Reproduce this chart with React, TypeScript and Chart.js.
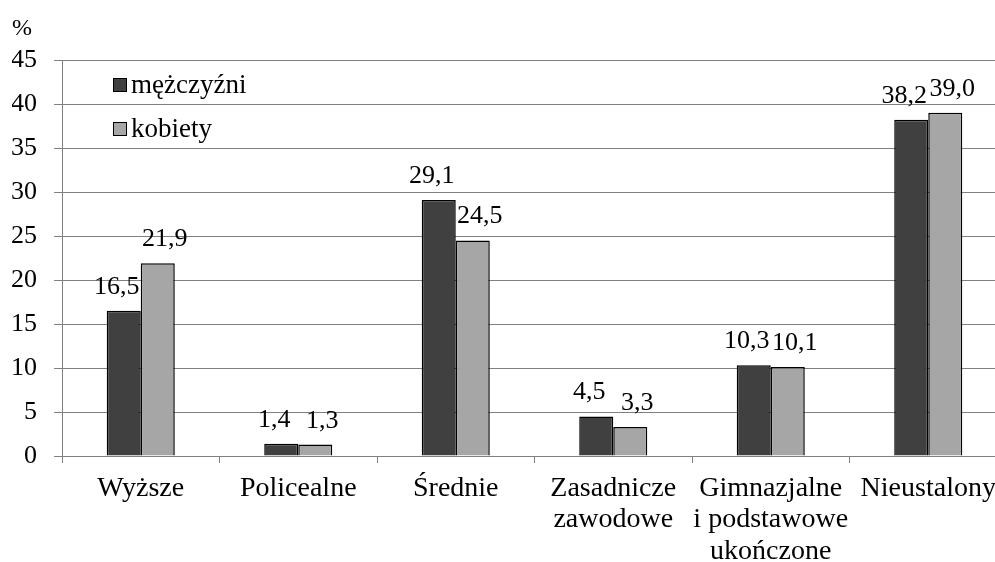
import React, { useEffect, useRef } from "react";
import { Chart, registerables } from "chart.js";

Chart.register(...registerables);

const categories: string[][] = [
  ["Wyższe"],
  ["Policealne"],
  ["Średnie"],
  ["Zasadnicze", "zawodowe"],
  ["Gimnazjalne", "i podstawowe", "ukończone"],
  ["Nieustalony"],
];
const men = [16.5, 1.4, 29.1, 4.5, 10.3, 38.2];
const women = [21.9, 1.3, 24.5, 3.3, 10.1, 39.0];
const seriesNames = ["mężczyźni", "kobiety"];
const seriesColors = ["#404040", "#a6a6a6"];
const yMin = 0;
const yMax = 45;
const yStep = 5;
const unitLabel = "%";

const FONT = '"Liberation Serif", "Times New Roman", serif';

const fmt = (v: number) => v.toFixed(1).replace(".", ",");

const overlay = {
  id: "overlay",
  afterDatasetsDraw(chart: any) {
    const ctx = chart.ctx as CanvasRenderingContext2D;
    const area = chart.chartArea;
    ctx.save();
    // data labels
    ctx.font = `26px ${FONT}`;
    ctx.fillStyle = "#000";
    ctx.textAlign = "center";
    ctx.textBaseline = "alphabetic";
    chart.data.datasets.forEach((ds: any, di: number) => {
      const meta = chart.getDatasetMeta(di);
      meta.data.forEach((bar: any, i: number) => {
        const dx = di === 0 ? -7 : 7;
        ctx.fillText(fmt(ds.data[i]), bar.x + dx, bar.y - 17);
      });
    });
    // legend inside plot
    ctx.textAlign = "left";
    ctx.font = `27px ${FONT}`;
    seriesNames.forEach((name, i) => {
      const bx = area.left + 51;
      const baseY = 93 + i * 44;
      const by = baseY - 15;
      ctx.fillStyle = seriesColors[i];
      ctx.fillRect(bx, by, 14, 14);
      ctx.strokeStyle = "#000";
      ctx.lineWidth = 1;
      ctx.strokeRect(bx + 0.5, by + 0.5, 13, 13);
      ctx.fillStyle = "#000";
      ctx.fillText(name, bx + 18, baseY);
    });
    // unit label
    ctx.font = `24px ${FONT}`;
    ctx.fillText(unitLabel, 12, 35);
    ctx.restore();
  },
};

export default function App() {
  const ref = useRef<HTMLCanvasElement | null>(null);
  useEffect(() => {
    if (!ref.current) return;
    const chart = new Chart(ref.current, {
      type: "bar",
      data: {
        labels: categories,
        datasets: [
          {
            label: seriesNames[0],
            data: men,
            backgroundColor: seriesColors[0],
            borderColor: "#000",
            borderWidth: 1.5,
          },
          {
            label: seriesNames[1],
            data: women,
            backgroundColor: seriesColors[1],
            borderColor: "#000",
            borderWidth: 1.5,
          },
        ],
      },
      options: {
        responsive: false,
        animation: false,
        devicePixelRatio: 1,
        layout: { padding: { left: 12, right: 3, top: 60, bottom: 0 } },
        datasets: {
          bar: { categoryPercentage: 0.432, barPercentage: 1 },
        },
        plugins: {
          legend: { display: false },
          tooltip: { enabled: false },
          title: { display: false },
        },
        scales: {
          x: {
            offset: true,
            grid: {
              display: true,
              drawOnChartArea: false,
              drawTicks: true,
              tickLength: 7,
              color: "#808080",
              offset: true,
            },
            border: { display: true, color: "#808080" },
            ticks: {
              color: "#000",
              padding: 10,
              maxRotation: 0,
              autoSkip: false,
              font: { family: FONT, size: 28, lineHeight: 1.12 },
            },
            afterFit: (scale: any) => {
              scale.height = 106;
            },
          },
          y: {
            min: yMin,
            max: yMax,
            grid: {
              color: "#808080",
              lineWidth: 1,
              drawTicks: true,
              tickLength: 8,
            },
            border: { display: true, color: "#808080" },
            ticks: {
              stepSize: yStep,
              color: "#000",
              padding: 17,
              font: { family: FONT, size: 26 },
            },
            afterFit: (scale: any) => {
              scale.width = 50;
            },
          },
        },
      },
      plugins: [overlay],
    });
    return () => chart.destroy();
  }, []);
  return (
    <div
      style={{
        position: "fixed",
        left: 0,
        top: 0,
        width: 995,
        height: 562,
        overflow: "hidden",
        background: "#fff",
      }}
    >
      <canvas ref={ref} width={1010} height={562} style={{ display: "block" }} />
    </div>
  );
}
